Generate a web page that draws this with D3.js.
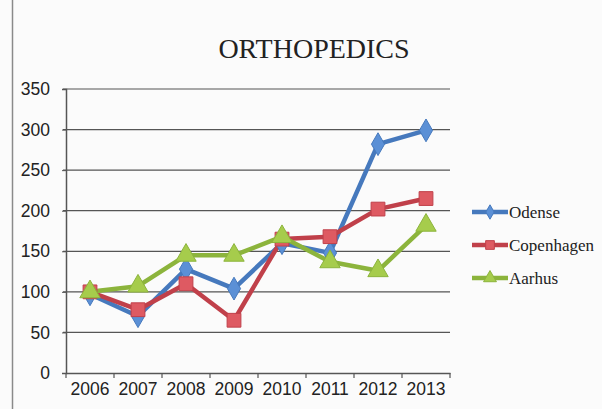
<!DOCTYPE html>
<html><head><meta charset="utf-8">
<script src="https://cdn.jsdelivr.net/npm/d3@7"></script>
<style>body{margin:0;background:#fff}svg{display:block}
.ax text{font-family:'Liberation Sans',Arimo,sans-serif;font-size:17.5px;fill:#222}</style>
</head><body>
<script>
const years = ["2006","2007","2008","2009","2010","2011","2012","2013"];
const odense = [97, 70, 128, 104, 160, 148, 282, 299];
const copenhagen = [100, 78, 110, 65, 165, 168, 202, 215];
const aarhus = [100, 107, 145, 145, 168, 137, 126, 182];
const yTicks = [0, 50, 100, 150, 200, 250, 300, 350];
const seriesNames = ["Odense", "Copenhagen", "Aarhus"];
const seriesColors = ["#4679bd", "#c0404a", "#8cb43c"];
const markerFills = ["#5b90d6", "#de5a62", "#a6cc4c"];
const title = "ORTHOPEDICS";

const W = 602, H = 409;
const svg = d3.select("body").append("svg").attr("width", W).attr("height", H);
svg.append("rect").attr("width", W).attr("height", H).attr("fill", "#fbfbfb");
svg.append("line").attr("x1", 12.5).attr("x2", 12.5).attr("y1", 0).attr("y2", H).attr("stroke", "#8a8a8a").attr("stroke-width", 1.5);

const x = d3.scaleBand().domain(years).range([66, 450]);
const y = d3.scaleLinear().domain([0, 350]).range([373, 89]);

// gridlines
svg.append("g").selectAll("line").data(yTicks.filter(d => d > 0)).join("line")
  .attr("x1", 63).attr("x2", 450).attr("y1", d => y(d)).attr("y2", d => y(d))
  .attr("stroke", "#555").attr("stroke-width", 1.2);

// y axis
const ya = svg.append("g").attr("class", "ax").attr("transform", "translate(66,0)")
  .call(d3.axisLeft(y).tickValues(yTicks).tickSize(4).tickPadding(12));
ya.attr("font-size", null).attr("font-family", null);
ya.select(".domain").attr("stroke", "#555").attr("stroke-width", 1.5);
ya.selectAll(".tick line").attr("stroke", "#555");

// x axis
const xa = svg.append("g").attr("class", "ax").attr("transform", "translate(0,373)")
  .call(d3.axisBottom(x).tickSize(0).tickPadding(10));
xa.attr("font-size", null).attr("font-family", null);
xa.select(".domain").attr("stroke", "#555").attr("stroke-width", 1.5);
svg.append("g").selectAll("line").data(years.concat(["end"])).join("line")
  .attr("x1", (d, i) => 66 + i * x.step()).attr("x2", (d, i) => 66 + i * x.step())
  .attr("y1", 373).attr("y2", 378).attr("stroke", "#555").attr("stroke-width", 1.2);

// title
svg.append("text").attr("x", 314).attr("y", 58).attr("text-anchor", "middle")
  .attr("font-family", "'Liberation Serif', 'DejaVu Serif', serif").attr("font-size", 28).attr("fill", "#222")
  .text(title);

const data = [odense, copenhagen, aarhus];
const line = d3.line().x((d, i) => x(years[i]) + x.bandwidth() / 2).y(d => y(d));
const symTypes = [d3.symbolDiamond, d3.symbolSquare, d3.symbolTriangle];
const symSizes = [150, 190, 180];

data.forEach((vals, s) => {
  svg.append("path").datum(vals).attr("d", line).attr("fill", "none")
    .attr("stroke", seriesColors[s]).attr("stroke-width", 4.5).attr("stroke-linejoin", "round");
});
data.forEach((vals, s) => {
  svg.append("g").selectAll("path").data(vals).join("path")
    .attr("d", d3.symbol().type(symTypes[s]).size(symSizes[s]))
    .attr("transform", (d, i) => `translate(${x(years[i]) + x.bandwidth() / 2},${y(d)})`)
    .attr("fill", markerFills[s]).attr("stroke", seriesColors[s]).attr("stroke-width", 1);
});

// legend
const lg = svg.append("g");
seriesNames.forEach((name, s) => {
  const ly = 212 + s * 33;
  lg.append("line").attr("x1", 472).attr("x2", 508).attr("y1", ly).attr("y2", ly)
    .attr("stroke", seriesColors[s]).attr("stroke-width", 4.5);
  lg.append("path").attr("d", d3.symbol().type(symTypes[s]).size(symSizes[s] * 0.4))
    .attr("transform", `translate(490,${ly})`).attr("fill", markerFills[s]).attr("stroke", seriesColors[s]);
  lg.append("text").attr("x", 509).attr("y", ly + 6)
    .attr("font-family", "'Liberation Serif', 'DejaVu Serif', serif").attr("font-size", 17).attr("fill", "#222")
    .text(name);
});
</script>
</body></html>
